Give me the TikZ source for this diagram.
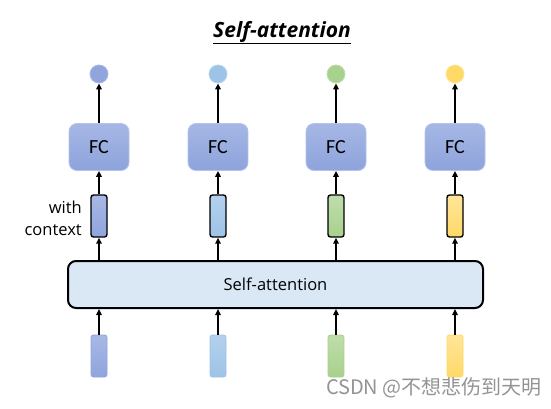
\documentclass[tikz,border=0pt]{standalone}
\usepackage{fontspec}
\setmainfont{Open Sans}
\newfontfamily\fcfont{Carlito}
\newfontfamily\cjkfont{Noto Sans CJK SC}
\usetikzlibrary{arrows.meta}
\definecolor{cA}{HTML}{8FA5DC}
\definecolor{cAl}{HTML}{A8B8E6}
\definecolor{cB}{HTML}{9DC3E6}
\definecolor{cBl}{HTML}{B4D1EE}
\definecolor{cC}{HTML}{A9D18E}
\definecolor{cCl}{HTML}{BFDDAB}
\definecolor{cD}{HTML}{FFD966}
\definecolor{cDl}{HTML}{FFE59A}
\definecolor{fctop}{HTML}{A6B7E5}
\definecolor{fcbot}{HTML}{8DA3DB}
\definecolor{fcedge}{HTML}{B3C3EB}
\definecolor{safill}{HTML}{DAE8F6}
\tikzset{
  x=1pt,y=-1pt,
  arr/.style={line width=1.6pt,-{Triangle[length=6pt,width=5.5pt]}},
  fcbox/.style={rounded corners=8pt,minimum width=60pt,minimum height=47pt,
    top color=fctop,bottom color=fcbot,draw=fcedge,line width=0.8pt,
    font=\fcfont\fontsize{20}{22}\selectfont},
  outv/.style={circle,minimum size=18pt,inner sep=0pt,line width=0.8pt},
  midv/.style={rounded corners=2.5pt,minimum width=16pt,minimum height=42pt,inner sep=0pt,draw=black,line width=1.4pt},
  inv/.style={rounded corners=2.5pt,minimum width=16pt,minimum height=42pt,inner sep=0pt,line width=0.8pt},
}
\begin{document}
\begin{tikzpicture}
\useasboundingbox[fill=white] (0,0) rectangle (551,408);
\node[font=\bfseries\itshape\fontsize{21}{24}\selectfont,inner sep=0pt,anchor=base] (title) at (282,37) {\underline{Self-attention}};
\node[draw=black,line width=2pt,rounded corners=8pt,fill=safill,minimum width=415pt,minimum height=47pt,
  font=\fontsize{16.5}{19}\selectfont] (sa) at (275.5,284.5) {Self-attention};
\foreach \i/\x/\c/\l in {1/99/cA/cAl,2/218/cB/cBl,3/336/cC/cCl,4/455/cD/cDl}{
  \node[outv,fill=\c,draw=\l] (o\i) at (\x,74) {};
  \node[fcbox] (fc\i) at (\x,147) {FC};
  \node[midv,top color=\l,bottom color=\c] (m\i) at (\x,216) {};
  \node[inv,top color=\l,bottom color=\c,draw=\c] (b\i) at (\x,356) {};
  \draw[arr] (fc\i.north) -- (o\i.south);
  \draw[arr] (m\i.north) -- (fc\i.south);
  \draw[arr] (sa.north -| m\i) -- (m\i.south);
  \draw[arr] (b\i.north) -- (sa.south -| b\i);
}
\node[font=\fontsize{16.5}{22}\selectfont,align=right,anchor=east,inner sep=0pt] (ctx) at (82,218) {with\\context};
\node[font=\cjkfont\fontsize{20}{22}\selectfont,text=black!42,anchor=east,inner sep=0pt] (wm) at (542,388) {CSDN @不想悲伤到天明};
\end{tikzpicture}
\end{document}
